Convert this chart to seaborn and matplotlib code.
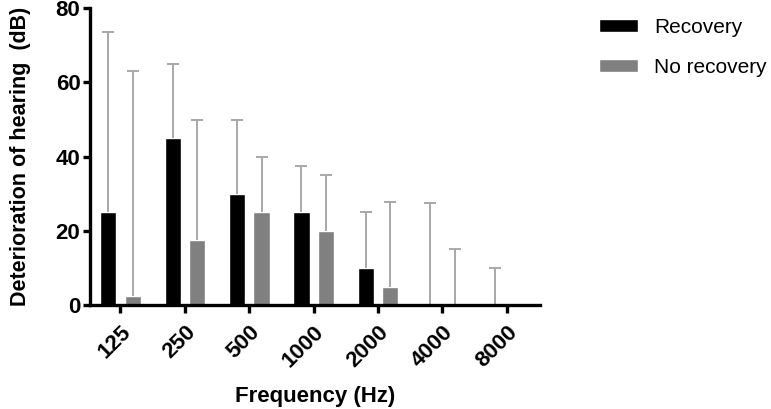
import pandas as pd
import matplotlib
matplotlib.use("Agg")
import matplotlib.pyplot as plt
import seaborn as sns

# Values
frequencies = ["125", "250", "500", "1000", "2000", "4000", "8000"]
recovery_mean = [25, 45, 30, 25, 10, 0, 0]
recovery_sd = [48.5, 20, 20, 12.5, 15, 27.5, 10]
no_recovery_mean = [2.5, 17.5, 25, 20, 5, 0, 0]
no_recovery_sd = [60.5, 32.5, 15, 15, 22.7, 15, 0]
groups = ["Recovery", "No recovery"]

sns.set_style("ticks", rc={"text.color": "black", "axes.labelcolor": "black",
                           "xtick.color": "black", "ytick.color": "black",
                           "axes.edgecolor": "black"})
plt.rcParams['font.family'] = ['Liberation Sans', 'DejaVu Sans']

df = pd.DataFrame({
    "Frequency": frequencies * 2,
    "Value": recovery_mean + no_recovery_mean,
    "SD": recovery_sd + no_recovery_sd,
    "Group": [groups[0]] * len(frequencies) + [groups[1]] * len(frequencies),
})

fig = plt.figure(figsize=(7.71, 4.09), dpi=100)
ax = fig.add_axes([0.117, 0.254, 0.583, 0.726])

sns.barplot(data=df, x="Frequency", y="Value", hue="Group", order=frequencies,
            hue_order=groups, palette={"Recovery": "black", "No recovery": "#808080"},
            width=0.76, gap=0.34, errorbar=None, saturation=1, ax=ax, legend=True)

# one-sided (upper) error bars, no cap at the bar top
bars = ax.patches[:len(df)]
for bar, (_, row) in zip(bars, df.iterrows()):
    if row["SD"] <= 0:
        continue
    xc = bar.get_x() + bar.get_width() / 2
    top = row["Value"] + row["SD"]
    ax.vlines(xc, row["Value"], top, color="#a8a8a8", lw=1.4, zorder=1)
    ax.plot([xc], [top], marker="_", ms=8, mew=1.4, color="#a8a8a8", zorder=1)

ax.set_ylim(0, 80)
ax.set_yticks([0, 20, 40, 60, 80])
ax.set_xlim(-0.47, 6.51)
sns.despine(ax=ax)
for side in ["left", "bottom"]:
    ax.spines[side].set_linewidth(2.4)
    ax.spines[side].set_color("black")
ax.tick_params(axis="both", width=2.4, length=5, labelsize=16, pad=2, colors="black")
ax.tick_params(axis="x", length=6, pad=6)
for lab in ax.get_yticklabels():
    lab.set_fontweight("bold")
for lab in ax.get_xticklabels():
    lab.set_fontweight("bold")
    lab.set_rotation(45)
    lab.set_ha("right")
    lab.set_rotation_mode("anchor")

ax.set_xlabel("Frequency (Hz)", fontsize=16, fontweight="bold", labelpad=10, color="black")
ax.set_ylabel("Deterioration of hearing  (dB)", fontsize=15.5, fontweight="bold",
              labelpad=18, color="black")

leg = ax.legend(title=None, frameon=False, fontsize=15, loc="upper left",
                bbox_to_anchor=(1.09, 1.03), handlelength=1.9, handleheight=0.6,
                labelspacing=1.0, handletextpad=0.75)
for t in leg.get_texts():
    t.set_color("black")

fig.savefig("out.png", dpi=100)
